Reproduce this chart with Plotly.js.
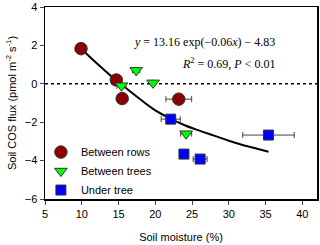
<!DOCTYPE html>
<html>
<head>
<meta charset="utf-8">
<script src="https://cdn.plot.ly/plotly-3.0.1.min.js"></script>
<style>html,body{margin:0;padding:0;background:#fff;}#chart{width:320px;height:245px;}</style>
</head>
<body>
<div id="chart"></div>
<script>
// Between rows
const rowsX = [9.9, 14.7, 15.5, 23.2];
const rowsY = [1.83, 0.2, -0.77, -0.8];
const rowsXErr = [0, 0, 0, 1.75];
// Between trees
const treesX = [17.4, 15.4, 19.7, 24.2];
const treesY = [0.7, -0.1, 0.05, -2.6];
const treesXErr = [0.5, 0.6, 0, 0.75];
// Under tree
const underX = [22.1, 35.4, 23.9, 26.1];
const underY = [-1.84, -2.67, -3.66, -3.92];
const underXErr = [1.3, 3.5, 0, 0.95];
// Fitted curve
const fitX = [10, 12, 14, 16, 18, 20, 22, 24, 26, 28, 30, 32, 34, 35.4];
const fitY = [1.8, 1.08, 0.4, -0.22, -0.82, -1.38, -1.8, -2.16, -2.44, -2.70, -2.97, -3.2, -3.4, -3.54];
// Zero reference line
const zeroX = [5, 42];
const zeroY = [0, 0];
const xTicks = [5, 10, 15, 20, 25, 30, 35, 40];
const yTicks = [-6, -4, -2, 0, 2, 4];

const errStyle = {type: 'data', visible: true, color: '#444', thickness: 1, width: 3};
const traces = [
  {x: zeroX, y: zeroY, mode: 'lines', line: {color: '#000', width: 1.5, dash: 'dot'}, showlegend: false, hoverinfo: 'skip'},
  {x: fitX, y: fitY, mode: 'lines', line: {color: '#000', width: 2, shape: 'spline'}, showlegend: false, hoverinfo: 'skip'},
  {x: rowsX, y: rowsY, mode: 'markers', name: 'Between rows',
   error_x: Object.assign({array: rowsXErr}, errStyle),
   marker: {symbol: 'circle', size: 12.5, color: '#8b0000', line: {color: '#333', width: 1}}},
  {x: treesX, y: treesY, mode: 'markers', name: 'Between trees',
   error_x: Object.assign({array: treesXErr}, errStyle),
   marker: {symbol: 'triangle-down', size: 11, color: '#00ff00', line: {color: '#333', width: 1}}},
  {x: underX, y: underY, mode: 'markers', name: 'Under tree',
   error_x: Object.assign({array: underXErr}, errStyle),
   marker: {symbol: 'square', size: 10, color: '#0000ff', line: {color: '#333', width: 1}}}
];

const axisFont = {family: 'Liberation Sans, Arial, sans-serif', size: 11, color: '#000'};
const layout = {
  width: 320, height: 245,
  margin: {l: 45, r: 3, t: 7, b: 46},
  paper_bgcolor: '#fff', plot_bgcolor: '#fff',
  font: axisFont,
  showlegend: true,
  legend: {x: -0.015, y: 0.32, xanchor: 'left', yanchor: 'top', bgcolor: 'rgba(0,0,0,0)',
           font: {family: 'Liberation Sans, Arial, sans-serif', size: 11, color: '#000'}, tracegroupgap: 0},
  xaxis: {range: [5, 42], tickvals: xTicks, ticks: 'outside', ticklen: 4, tickwidth: 1,
          showline: true, linecolor: '#000', linewidth: 1.5, mirror: true, showgrid: false, zeroline: false,
          tickfont: axisFont, title: {text: 'Soil moisture (%)', font: axisFont, standoff: 14}},
  yaxis: {range: [-6, 4], tickvals: yTicks, ticks: 'outside', ticklen: 4, tickwidth: 1,
          showline: true, linecolor: '#000', linewidth: 1.5, mirror: true, showgrid: false, zeroline: false,
          tickfont: axisFont, title: {text: 'Soil COS flux (pmol m<sup>-2</sup> s<sup>-1</sup>)', font: axisFont, standoff: 6}},
  annotations: [
    {xref: 'paper', yref: 'paper', x: 0.853, y: 0.818, xanchor: 'right', yanchor: 'middle', showarrow: false,
     text: '<i>y</i> = 13.16 exp(\u22120.06<i>x</i>) \u2212 4.83',
     font: {family: 'Liberation Serif, Times New Roman, serif', size: 12, color: '#000'}},
    {xref: 'paper', yref: 'paper', x: 0.853, y: 0.708, xanchor: 'right', yanchor: 'middle', showarrow: false,
     text: '<i>R</i><sup>2</sup> = 0.69, <i>P</i> < 0.01',
     font: {family: 'Liberation Serif, Times New Roman, serif', size: 12, color: '#000'}}
  ]
};
Plotly.newPlot('chart', traces, layout, {staticPlot: true, displayModeBar: false});
</script>
</body>
</html>
